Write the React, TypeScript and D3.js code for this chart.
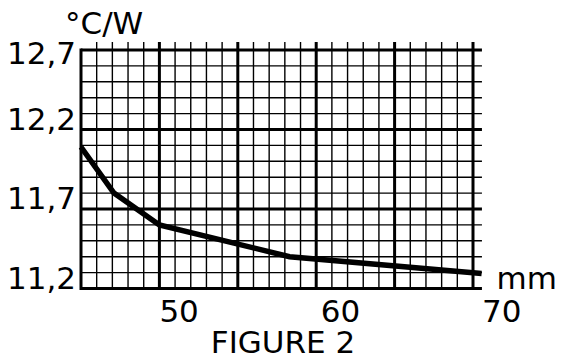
import * as d3 from 'd3';

// curve (mm vs °C/W)
const lengthMm = [45, 47.1, 50, 58.3, 70.55];
const resistance = [12.09, 11.8, 11.6, 11.4, 11.295];

const yTicks = [11.2, 11.7, 12.2, 12.7];
const xTicks = [50, 60, 70];
const yUnit = '°C/W';
const xUnit = 'mm';
const caption = 'FIGURE 2';

export default function App() {
  const width = 563;
  const height = 363;
  const font = '"DejaVu Sans", sans-serif';
  const fs = 31;

  // graph paper: 1 mm per small cell horizontally, 0.1 °C/W vertically
  const xScale = d3.scaleLinear().domain([45, 70]).range([81, 473]);
  const yScale = d3.scaleLinear().domain([11.2, 12.7]).range([288.5, 50]);
  const xEnd = 70.57;
  // tick labels sit to the right of their grid lines
  const labelX = d3.scaleLinear().domain([50, 70]).range([xScale(50), xScale(xEnd)]);

  const vLines = d3.range(45, 71);
  const hLines = d3.range(0, 16).map(i => 11.2 + i * 0.1);

  const line = d3.line<number>()
    .x((_, i) => xScale(lengthMm[i]))
    .y(d => yScale(d));

  return (
    <svg
      width={width}
      height={height}
      style={{ position: 'absolute', left: 0, top: 0, background: '#fff' }}
      fontFamily={font}
    >
      {/* grid */}
      {vLines.map(v => {
        const major = (v - 45) % 5 === 0;
        return (
          <line
            key={'v' + v}
            x1={xScale(v)}
            x2={xScale(v)}
            y1={v === 45 ? yScale(12.7) - 1.5 : 42}
            y2={yScale(11.2) + 1.5}
            stroke="#000"
            strokeWidth={major ? 3 : 1.4}
          />
        );
      })}
      {hLines.map((v, i) => (
        <line
          key={'h' + i}
          x1={xScale(45)}
          x2={xScale(xEnd)}
          y1={yScale(v)}
          y2={yScale(v)}
          stroke="#000"
          strokeWidth={i % 5 === 0 ? 3 : 1.4}
        />
      ))}

      {/* curve */}
      <path d={line(resistance) || ''} fill="none" stroke="#000" strokeWidth={5.5} />

      {/* y labels */}
      {yTicks.map((t, i) => (
        <text
          key={'yl' + t}
          x={76}
          y={i === yTicks.length - 1 ? yScale(t) + 14 : yScale(t)}
          textAnchor="end"
          fontSize={fs}
          fill="#000"
        >
          {t.toFixed(1).replace('.', ',')}
        </text>
      ))}
      <text x={65} y={34} fontSize={fs} fill="#000">{yUnit}</text>

      {/* x labels */}
      {xTicks.map(t => (
        <text key={'xl' + t} x={labelX(t)} y={321.5} fontSize={fs} fill="#000">
          {t}
        </text>
      ))}
      <text x={496.5} y={288.5} fontSize={fs} fill="#000">{xUnit}</text>

      <text x={283} y={352.5} textAnchor="middle" fontSize={fs} fill="#000">{caption}</text>
    </svg>
  );
}
